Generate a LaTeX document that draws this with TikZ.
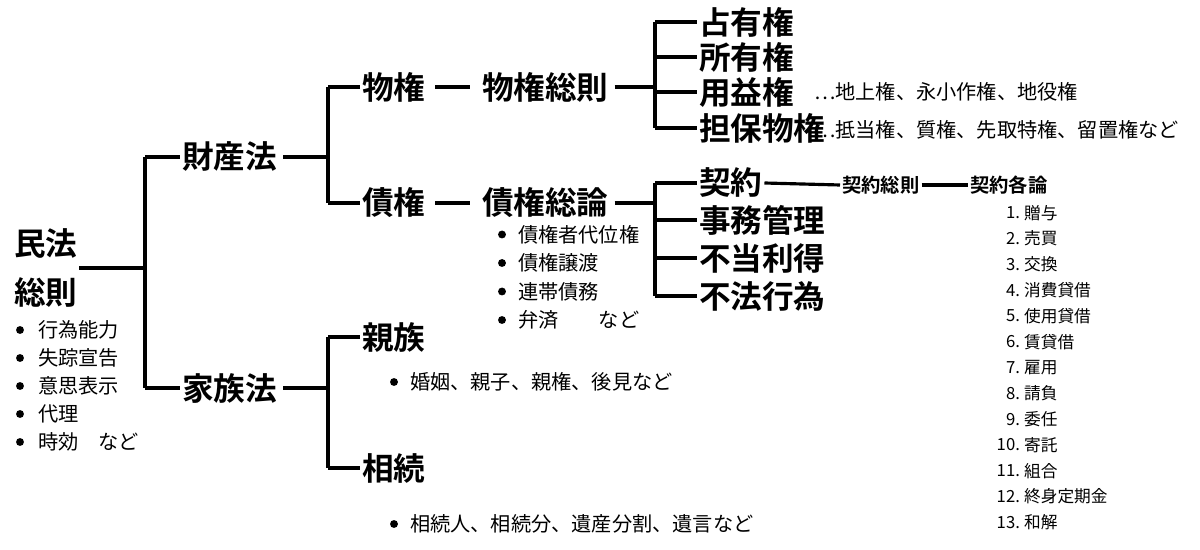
\documentclass[tikz,border=0pt]{standalone}
\usepackage{fontspec}
\setmainfont{Noto Sans CJK JP}[BoldFont={Noto Sans CJK JP Bold}]
\begin{document}
\begin{tikzpicture}[x=0.02cm, y=-0.02cm,
  big/.style={font=\fontsize{18}{20}\selectfont\bfseries, anchor=west, inner sep=1pt},
  mid/.style={font=\fontsize{11}{13}\selectfont\bfseries, anchor=west, inner sep=1pt},
  note/.style={font=\fontsize{11.5}{13}\selectfont, anchor=west, inner sep=1pt},
  item/.style={font=\fontsize{9.5}{11}\selectfont, anchor=east, inner sep=1pt},
  dot/.style={circle, fill, inner sep=0pt, minimum size=4.5pt},
  link/.style={line width=1.8pt}]
\useasboundingbox (0,0) rectangle (1200,550);

% root
\node (minpo) [big, align=left, font=\fontsize{18}{28}\selectfont\bfseries] at (12,268) {民法\\総則};
\foreach \t [count=\i] in {行為能力,失踪宣告,意思表示,代理,時効　など} {
  \node [dot] at (20,302+28*\i) {};
  \node [note] at (36,302+28*\i) {\t};
}

% second level
\coordinate (b1) at (145,268);
\node (zaisan) [big] at (180,157) {財産法};
\node (kazoku) [big] at (180,388) {家族法};
\draw [link] (minpo.east) -- (b1);
\draw [link] (145,157) -- (145,388);
\draw [link] (145,157) -- (zaisan.west);
\draw [link] (145,388) -- (kazoku.west);

% property law
\node (bukken) [big] at (360,87) {物権};
\node (saiken) [big] at (360,203) {債権};
\draw [link] (zaisan.east) ++(4,0) -- (328,157);
\draw [link] (328,87) -- (328,203);
\draw [link] (328,87) -- (bukken.west);
\draw [link] (328,203) -- (saiken.west);

\node (bsoku) [big] at (480,87) {物権総則};
\node (ssoron) [big] at (480,203) {債権総論};
\draw [link] (435,87) -- (470,87);
\draw [link] (435,203) -- (470,203);

% real rights
\draw [link] (bsoku.east) ++(4,0) -- (655,87);
\draw [link] (655,22) -- (655,128);
\foreach \t/\y/\n in {占有権/22/sen, 所有権/57/sho, 用益権/92/yo, 担保物権/128/tan} {
  \node (\n) [big] at (697,\y) {\t};
  \draw [link] (655,\y) -- (\n.west);
}
\node [note] at (812,92) {…地上権、永小作権、地役権};
\node [note] at (812,130) {…抵当権、質権、先取特権、留置権など};

% obligations
\draw [link] (ssoron.east) ++(4,0) -- (655,203);
\draw [link] (655,183) -- (655,296);
\foreach \t/\y/\n in {契約/183/kei, 事務管理/220/jimu, 不当利得/258/futo, 不法行為/296/fuho} {
  \node (\n) [big] at (697,\y) {\t};
  \draw [link] (655,\y) -- (\n.west);
}
\foreach \t [count=\i] in {債権者代位権,債権譲渡,連帯債務,弁済　　など} {
  \node [dot] at (502,206+28.5*\i) {};
  \node [note] at (516,206+28.5*\i) {\t};
}

% contracts
\node (ksoku) [mid] at (840,185) {契約総則};
\node (kkaku) [mid] at (968,185) {契約各論};
\draw [link] (kei.east) -- (ksoku.west);
\draw [link] (ksoku.east) -- (kkaku.west);
\foreach \t [count=\i] in {贈与,売買,交換,消費貸借,使用貸借,賃貸借,雇用,請負,委任,寄託,組合,終身定期金,和解} {
  \node [item] at (1022,187+25.8*\i) {\i.};
  \node [item, anchor=west] at (1022,187+25.8*\i) {\t};
}

% family law
\node (shinzoku) [big] at (360,337) {親族};
\node (sozoku) [big] at (360,468) {相続};
\draw [link] (kazoku.east) ++(4,0) -- (328,388);
\draw [link] (328,337) -- (328,468);
\draw [link] (328,337) -- (shinzoku.west);
\draw [link] (328,468) -- (sozoku.west);
\node [dot] at (394,382) {};
\node [note] at (408,382) {婚姻、親子、親権、後見など};
\node [dot] at (394,524) {};
\node [note] at (408,524) {相続人、相続分、遺産分割、遺言など};
\end{tikzpicture}
\end{document}
